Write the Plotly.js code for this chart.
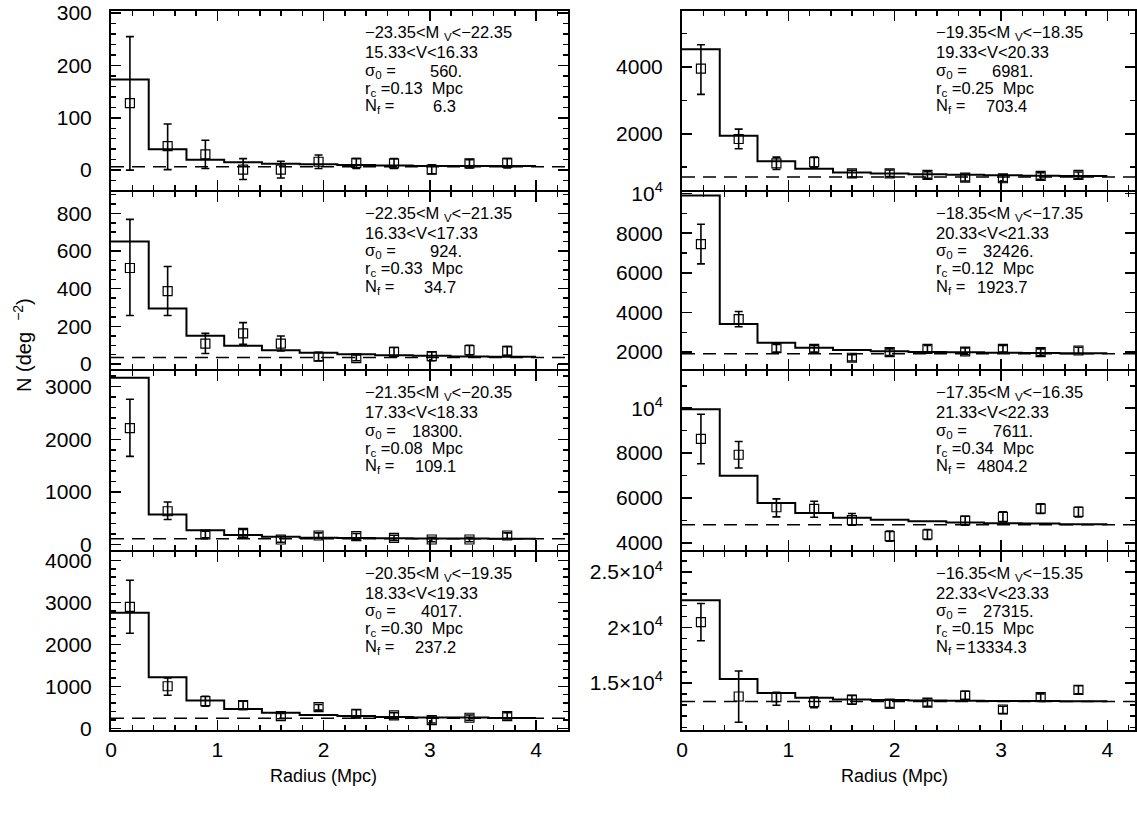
<!DOCTYPE html>
<html><head><meta charset="utf-8">
<script src="https://cdn.plot.ly/plotly-3.0.1.min.js"></script>
<style>html,body{margin:0;padding:0;background:#fff}</style>
</head><body><div id="chart" style="width:1137px;height:813px"></div>
<script>
// ---------- data ----------
const radius = [0.178, 0.533, 0.888, 1.243, 1.598, 1.953, 2.308, 2.663, 3.018, 3.373, 3.728];
const binEdges = [0, 0.355, 0.71, 1.065, 1.42, 1.775, 2.13, 2.485, 2.84, 3.195, 3.55, 4.0];

// left column, top to bottom
const L1_val = [128, 46, 30, 1, 1, 16, 14, 13, 1, 13, 14];
const L1_hi  = [255, 88, 57, 22, 17, 29, 22, 22, 10, 20, 22];
const L1_lo  = [0, 1, 3, -18, -15, 3, 3, 3, -7, 4, 4];
const L1_model = [173, 40, 20, 15, 12, 11, 10, 9, 8, 8, 8];

const L2_val = [510, 387, 109, 163, 109, 39, 32, 65, 42, 74, 70];
const L2_hi  = [768, 518, 163, 220, 149, 62, 49, 88, 65, 100, 93];
const L2_lo  = [258, 258, 56, 105, 70, 18, 18, 40, 18, 49, 47];
const L2_model = [650, 295, 150, 97, 74, 60, 52, 47, 44, 41, 39];

const L3_val = [2211, 632, 190, 221, 95, 171, 158, 126, 95, 95, 171];
const L3_hi  = [2760, 809, 253, 284, 158, 221, 208, 177, 139, 139, 221];
const L3_lo  = [1674, 474, 126, 139, 44, 114, 95, 76, 51, 51, 114];
const L3_model = [3170, 570, 272, 180, 145, 130, 122, 117, 114, 112, 111];

const L4_val = [2895, 1002, 647, 552, 292, 505, 347, 308, 197, 252, 292];
const L4_hi  = [3527, 1199, 765, 647, 355, 568, 442, 371, 268, 316, 371];
const L4_lo  = [2264, 789, 529, 450, 229, 434, 252, 237, 126, 189, 221];
const L4_model = [2753, 1215, 663, 458, 371, 316, 292, 268, 260, 255, 245];

// right column, top to bottom
const R1_val = [3950, 1844, 1112, 1151, 815, 815, 766, 686, 667, 736, 766];
const R1_hi  = [4670, 2140, 1300, 1300, 905, 915, 866, 786, 767, 836, 856];
const R1_lo  = [3180, 1550, 930, 1000, 705, 715, 666, 586, 567, 636, 666];
const R1_model = [4530, 1940, 1180, 955, 840, 810, 790, 770, 755, 745, 735];

const R2_val = [7450, 3667, 2200, 2167, 1717, 2000, 2167, 2033, 2167, 2000, 2083];
const R2_hi  = [8450, 4050, 2383, 2333, 1867, 2167, 2333, 2217, 2333, 2167, 2250];
const R2_lo  = [6450, 3283, 2000, 2000, 1550, 1833, 2000, 1867, 2000, 1833, 1917];
const R2_model = [9900, 3420, 2470, 2220, 2110, 2050, 2010, 1990, 1975, 1960, 1950];

const R3_val = [8637, 7926, 5585, 5511, 5007, 4296, 4370, 4993, 5156, 5526, 5378];
const R3_hi  = [9733, 8519, 5956, 5852, 5304, 4519, 4593, 5185, 5378, 5733, 5585];
const R3_lo  = [7526, 7333, 5156, 5141, 4785, 4074, 4148, 4785, 4933, 5304, 5156];
const R3_model = [9950, 6993, 5778, 5333, 5111, 5022, 4963, 4904, 4874, 4859, 4830];

const R4_val = [20490, 13780, 13720, 13280, 13490, 13140, 13220, 13870, 12610, 13720, 14370];
const R4_hi  = [22160, 16080, 14160, 13720, 13870, 13490, 13580, 14250, 12900, 14020, 14750];
const R4_lo  = [18810, 11460, 12990, 12780, 13080, 12780, 12900, 13520, 12250, 13370, 14020];
const R4_model = [22450, 15350, 14100, 13670, 13520, 13460, 13430, 13400, 13380, 13370, 13350];

// annotation texts, panel order L1..L4, R1..R4
const magRanges = ["−23.35<M <sub>V</sub><−22.35", "−22.35<M <sub>V</sub><−21.35", "−21.35<M <sub>V</sub><−20.35", "−20.35<M <sub>V</sub><−19.35",
                   "−19.35<M <sub>V</sub><−18.35", "−18.35<M <sub>V</sub><−17.35", "−17.35<M <sub>V</sub><−16.35", "−16.35<M <sub>V</sub><−15.35"];
const vRanges = ["15.33<V<16.33", "16.33<V<17.33", "17.33<V<18.33", "18.33<V<19.33",
                 "19.33<V<20.33", "20.33<V<21.33", "21.33<V<22.33", "22.33<V<23.33"];
const sigma0 = ["560.", "924.", "18300.", "4017.", "6981.", "32426.", "7611.", "27315."];
const rcVals = ["0.13", "0.33", "0.08", "0.30", "0.25", "0.12", "0.34", "0.15"];
const NfText = ["6.3", "34.7", "109.1", "237.2", "703.4", "1923.7", "4804.2", "13334.3"];
const Nf = [6.3, 34.7, 109.1, 237.2, 703.4, 1923.7, 4804.2, 13334.3];

// tick labels for right column
const R1_tickvals = [2000, 4000], R1_ticktext = ["2000", "4000"];
const R2_tickvals = [2000, 4000, 6000, 8000, 10000], R2_ticktext = ["2000", "4000", "6000", "8000", "10<sup>4</sup>"];
const R3_tickvals = [4000, 6000, 8000, 10000], R3_ticktext = ["4000", "6000", "8000", "10<sup>4</sup>"];
const R4_tickvals = [15000, 20000, 25000], R4_ticktext = ["1.5×10<sup>4</sup>", "2×10<sup>4</sup>", "2.5×10<sup>4</sup>"];
const xTickVals = [0, 1, 2, 3, 4];

// ---------- layout helpers ----------
const W = 1137, H = 813;
const LW = 2;
const colX = [[111 / W, 568 / W], [682 / W, 1135 / W]];
const colXRange = [[0, 4.3], [0, 4.26]];
const rowPx = [[11, 189.5], [191.5, 369], [371, 549.5], [551.5, 730]];
const yRanges = [[-37, 304], [-26, 916], [-95, 3297], [-40, 4213],
                 [330, 5680], [1150, 10100], [3700, 11660], [10760, 26850]];

const panels = [
  {v: L1_val, hi: L1_hi, lo: L1_lo, m: L1_model},
  {v: L2_val, hi: L2_hi, lo: L2_lo, m: L2_model},
  {v: L3_val, hi: L3_hi, lo: L3_lo, m: L3_model},
  {v: L4_val, hi: L4_hi, lo: L4_lo, m: L4_model},
  {v: R1_val, hi: R1_hi, lo: R1_lo, m: R1_model},
  {v: R2_val, hi: R2_hi, lo: R2_lo, m: R2_model},
  {v: R3_val, hi: R3_hi, lo: R3_lo, m: R3_model},
  {v: R4_val, hi: R4_hi, lo: R4_lo, m: R4_model}
];
const yTickSpec = [
  {dtick: 100, minor: 20}, {dtick: 200, minor: 50}, {dtick: 1000, minor: 200}, {dtick: 1000, minor: 200},
  {vals: R1_tickvals, text: R1_ticktext, minor: 1000}, {vals: R2_tickvals, text: R2_ticktext, minor: 1000},
  {vals: R3_tickvals, text: R3_ticktext, minor: 1000}, {vals: R4_tickvals, text: R4_ticktext, minor: 1000}
];

const FONT = "Liberation Sans, Arial, Helvetica, sans-serif";
const traces = [];
const layout = {
  width: W, height: H, margin: {l: 0, r: 0, t: 0, b: 0},
  paper_bgcolor: "#fff", plot_bgcolor: "#fff", showlegend: false,
  font: {family: FONT, color: "#000", size: 21},
  annotations: [], shapes: []
};

panels.forEach((p, i) => {
  const col = i < 4 ? 0 : 1, row = i % 4, n = i + 1;
  const xa = n === 1 ? "x" : "x" + n, ya = n === 1 ? "y" : "y" + n;
  const xkey = n === 1 ? "xaxis" : "xaxis" + n, ykey = n === 1 ? "yaxis" : "yaxis" + n;
  const bottom = row === 3;

  // model histogram
  const sx = binEdges.slice();
  const sy = p.m.concat([p.m[p.m.length - 1]]);
  traces.push({x: sx, y: sy, xaxis: xa, yaxis: ya, mode: "lines", line: {shape: "hv", color: "#000", width: 2}, hoverinfo: "skip"});
  // data points with error bars
  traces.push({
    x: radius, y: p.v, xaxis: xa, yaxis: ya, mode: "markers",
    marker: {symbol: "square-open", size: 9, color: "#000", line: {width: 1.2, color: "#000"}},
    error_y: {type: "data", symmetric: false,
      array: p.hi.map((h, k) => h - p.v[k]), arrayminus: p.v.map((v, k) => v - p.lo[k]),
      color: "#000", thickness: 1.6, width: 4}
  });
  // background level (dashed)
  layout.shapes.push({type: "line", xref: xa + " domain", yref: ya, x0: 0, x1: 1, y0: Nf[i], y1: Nf[i],
    line: {color: "#000", width: 1.5, dash: "13px,8px"}});

  const yd = [1 - rowPx[row][1] / H, 1 - rowPx[row][0] / H];
  layout[xkey] = {
    domain: colX[col], anchor: ya, range: colXRange[col], showgrid: false, zeroline: false,
    showline: true, linecolor: "#000", linewidth: LW, mirror: "ticks",
    ticks: "inside", ticklen: 10, tickwidth: 1.5, tickcolor: "#000",
    tickmode: "array", tickvals: xTickVals, showticklabels: bottom,
    tickfont: {size: 21, family: FONT}, ticklabelstandoff: 0,
    minor: {ticks: "inside", ticklen: 5, tickwidth: 1.5, tickcolor: "#000", dtick: 0.2, tick0: 0, showgrid: false}
  };
  const ts = yTickSpec[i];
  const yax = {
    domain: yd, anchor: xa, range: yRanges[i], showgrid: false, zeroline: false,
    showline: true, linecolor: "#000", linewidth: LW, mirror: "ticks",
    ticks: "inside", ticklen: 10, tickwidth: 1.5, tickcolor: "#000",
    tickfont: {size: 21, family: FONT}, ticklabelstandoff: 13,
    minor: {ticks: "inside", ticklen: 5, tickwidth: 1.5, tickcolor: "#000", dtick: ts.minor, tick0: 0, showgrid: false}
  };
  if (ts.vals) { yax.tickmode = "array"; yax.tickvals = ts.vals; yax.ticktext = ts.text; }
  else { yax.tickmode = "linear"; yax.tick0 = 0; yax.dtick = ts.dtick; }
  layout[ykey] = yax;

  // annotation block
  const panelH = rowPx[row][1] - rowPx[row][0];
  const offs = [22, 41, 59.5, 77.5, 95];
  const yy = offs.map(o => 1 - o / panelH);
  const tx = 2.37, sx0 = 3.32, nfx = 3.265;
  const base = {xref: xa, yref: ya + " domain", showarrow: false, yanchor: "middle", font: {size: 16.5, family: FONT, color: "#000"}};
  layout.annotations.push(Object.assign({}, base, {x: tx, y: yy[0], xanchor: "left", text: magRanges[i]}));
  layout.annotations.push(Object.assign({}, base, {x: tx, y: yy[1], xanchor: "left", text: vRanges[i]}));
  layout.annotations.push(Object.assign({}, base, {x: tx, y: yy[2], xanchor: "left", text: "σ<sub>0</sub> ="}));
  layout.annotations.push(Object.assign({}, base, {x: sx0, y: yy[2], xanchor: "right", text: sigma0[i]}));
  layout.annotations.push(Object.assign({}, base, {x: tx, y: yy[3], xanchor: "left", text: "r<sub>c</sub> =" + rcVals[i] + "\u00a0\u00a0Mpc"}));
  layout.annotations.push(Object.assign({}, base, {x: tx, y: yy[4], xanchor: "left", text: "N<sub>f</sub> ="}));
  layout.annotations.push(Object.assign({}, base, {x: nfx, y: yy[4], xanchor: "right", text: NfText[i]}));
});

// axis titles
layout.annotations.push({xref: "x4", yref: "paper", x: 2, y: 1 - 776 / H, text: "Radius (Mpc)", showarrow: false,
  xanchor: "center", yanchor: "middle", font: {size: 18, family: FONT}});
layout.annotations.push({xref: "x8", yref: "paper", x: 2, y: 1 - 776 / H, text: "Radius (Mpc)", showarrow: false,
  xanchor: "center", yanchor: "middle", font: {size: 18, family: FONT}});
layout.annotations.push({xref: "paper", yref: "paper", x: 22 / W, y: 1 - 345 / H, text: "N (deg  <sup>−2</sup>)", showarrow: false,
  textangle: -90, xanchor: "center", yanchor: "middle", font: {size: 20, family: FONT}});

Plotly.newPlot("chart", traces, layout, {displayModeBar: false, staticPlot: true});
</script></body></html>
